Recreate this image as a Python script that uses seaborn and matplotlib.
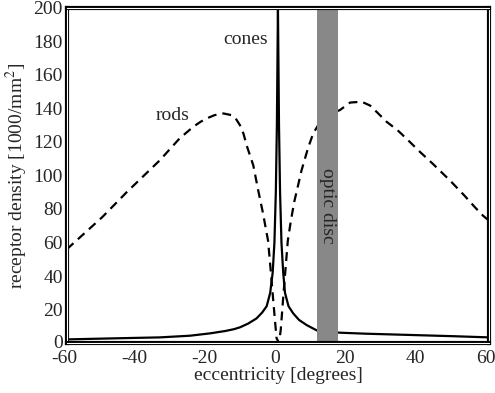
import numpy as np
import pandas as pd
import matplotlib
matplotlib.use("Agg")
import matplotlib.pyplot as plt
import matplotlib.patheffects as pe
import matplotlib.transforms as mtransforms
import seaborn as sns

# cones density (x in degrees, y in 1000/mm^2)
cone_x = [-60, -45, -33.6, -25, -19.3, -15, -12.5, -10.8, -8.5, -6.1, -4.5, -3.2, -2.2, -1.5, -1.0, -0.6, -0.3, 0,
          0.3, 0.6, 1.0, 1.5, 2.0, 3.0, 4.35, 6, 8.2, 11, 17.6, 25, 38.4, 50, 60]
cone_y = [2.2, 2.9, 3.4, 4.4, 5.8, 7.2, 8.3, 9.4, 11.6, 14.7, 18.2, 22, 30, 42, 60, 90, 130, 200,
          130, 90, 60, 42, 30, 22, 17.7, 13.8, 10.7, 7.6, 6.2, 5.6, 4.8, 4.1, 3.4]

# rods density
rod_x = [-60, -50, -43, -33.6, -28, -24.1, -22, -20.3, -18, -15.5, -13.2, -12, -10.8, -9.8, -8.9, -7, -5.6, -4.3,
         -2.8, -2.0, -1.2, -0.4, 0.3, 0.8, 1.6, 2.8, 3.6, 4.6, 5.6, 6.7, 8.5, 10, 12, 15, 17.6, 20.5, 23.8,
         26.2, 28.5, 30.9, 34, 37, 40.4, 44, 48.9, 53, 56, 58.3, 60]
rod_y = [56, 75, 90, 109, 122, 129, 132, 134, 136, 137, 136, 134, 130, 125, 118, 106, 91, 78,
         61, 42, 22, 3, 0, 8, 30, 61, 72, 84, 93, 103, 116, 125, 132, 137, 139, 143.5, 144,
         141.7, 137, 132, 127, 121, 114, 107, 97, 88, 81, 76, 73]

xticks = [-60, -40, -20, 0, 20, 40, 60]
yticks = [0, 20, 40, 60, 80, 100, 120, 140, 160, 180, 200]

sns.set_style("white")
plt.rcParams['font.family'] = ['Liberation Serif', 'DejaVu Serif']
plt.rcParams['mathtext.fontset'] = 'stix'
plt.rcParams['axes.unicode_minus'] = False

fig = plt.figure(figsize=(4.95, 3.93), dpi=100)
ax = fig.add_axes([0.135, 0.127, 0.853, 0.853])

cones = pd.DataFrame({"x": cone_x, "y": cone_y})
rods = pd.DataFrame({"x": rod_x, "y": rod_y})

sns.lineplot(data=rods, x="x", y="y", ax=ax, color="black", linewidth=1.6,
             linestyle=(0, (4, 2.7)), zorder=2)
sns.lineplot(data=cones, x="x", y="y", ax=ax, color="black", linewidth=1.6, zorder=2)

ax.axvspan(11.2, 17.1, color="#888888", lw=0, zorder=3)

fs = 14
ax.text(-9.3, 181, "cones", fontsize=fs, ha="center", va="center", zorder=4)
ax.text(-30, 136, "rods", fontsize=fs, ha="center", va="center", zorder=4)
ax.text(14.15, 82, "optic disc", fontsize=fs, ha="center", va="center",
        rotation=270, zorder=4)

ax.set_xlim(-60, 60)
ax.set_ylim(0, 200)
ax.set_xticks(xticks)
ax.set_yticks(yticks)
ax.set_xticklabels([str(v) for v in xticks])
ax.set_yticklabels([str(v) for v in yticks])
ax.tick_params(axis="y", length=0, labelsize=fs, pad=3)
ax.tick_params(axis="x", length=0, labelsize=fs, pad=5)
ax.set_xlabel("eccentricity [degrees]", fontsize=fs, labelpad=0)
ax.set_ylabel("receptor density [1000/mm$^2$]", fontsize=fs, labelpad=2)

off = mtransforms.ScaledTranslation(-3 / 100, 0, fig.dpi_scale_trans)
for lab in ax.get_xticklabels():
    lab.set_transform(lab.get_transform() + off)
# nudge the bottom y label up slightly so it clears the "-60" label
ylabs = ax.get_yticklabels()
ylabs[0].set_transform(ylabs[0].get_transform()
                       + mtransforms.ScaledTranslation(0, 2 / 100, fig.dpi_scale_trans))

for s in ax.spines.values():
    s.set_visible(True)
    s.set_color("white")
    s.set_linewidth(0.8)
    s.set_path_effects([pe.Stroke(linewidth=3, foreground="black"), pe.Normal()])
    s.set_zorder(5)

fig.savefig("out.png", dpi=100)
